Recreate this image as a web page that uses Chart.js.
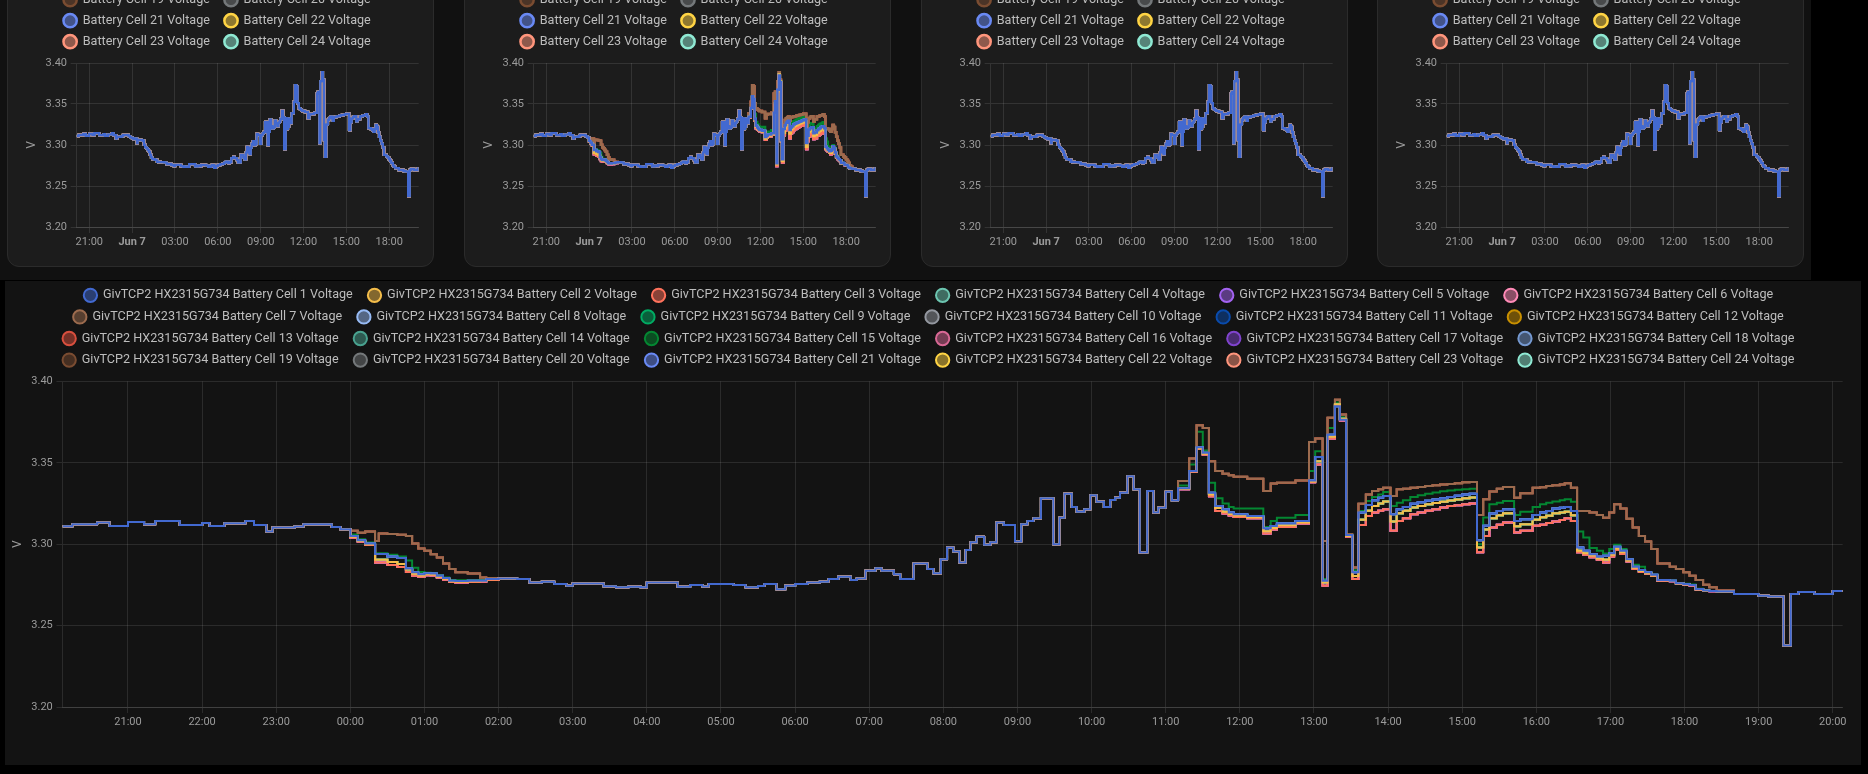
<!DOCTYPE html>
<html>
<head>
<meta charset="utf-8">
<title>Battery cell voltages</title>
<script src="https://cdn.jsdelivr.net/npm/chart.js@4.4.1/dist/chart.umd.min.js"></script>
<style>
  html, body { margin: 0; padding: 0; background: #000; }
  body { width: 1868px; height: 774px; position: relative; overflow: hidden; font-family: Roboto, sans-serif; }
  #top { position: absolute; left: 0; top: 0; width: 1811px; height: 280px; background: #111111; overflow: hidden; }
  .card { position: absolute; top: -204px; width: 427px; height: 471px; box-sizing: border-box;
          background: #1c1c1c; border: 1px solid #2b2b2b; border-radius: 12px; }
  .card .box { position: absolute; left: -1px; top: -1px; width: 427px; height: 471px; }
  #mainBg { position: absolute; left: 5px; top: 281px; width: 1856px; height: 484px; background: #131313; }
  #mainBox { position: absolute; left: 5px; top: 280px; width: 1856px; height: 485px; }
</style>
</head>
<body>
<div id="top">
  <div class="card" style="left:7px"><div class="box"><canvas id="card1"></canvas></div></div>
  <div class="card" style="left:464px"><div class="box"><canvas id="card2"></canvas></div></div>
  <div class="card" style="left:921px"><div class="box"><canvas id="card3"></canvas></div></div>
  <div class="card" style="left:1377px"><div class="box"><canvas id="card4"></canvas></div></div>
</div>
<div id="mainBg"></div>
<div id="mainBox"><canvas id="main"></canvas></div>

<script>
// ---- data (volts, sample-and-hold steps) ----

// 6 Jun evening, all cells together
const eveningTimes = ["20:07","20:15","20:35","20:45","21:00","21:13","21:22","21:42","22:00","22:06",
  "22:18","22:35","22:42","22:52","22:57","23:15","23:22","23:45","23:52"];
const eveningV = [3.3110,3.3122,3.3133,3.3112,3.3137,3.3122,3.3143,3.3118,3.3130,3.3112,
  3.3129,3.3143,3.3118,3.3078,3.3102,3.3108,3.3122,3.3106,3.3092];

// after midnight the cells split for a while
const nightTimes = ["00:00","00:06","00:12","00:20","00:23","00:30","00:38","00:45","00:50","00:55",
  "01:00","01:05","01:10","01:15","01:20","01:25","01:35","01:45","01:50"];
const nightUpper  = [3.3082,3.3070,3.3078,3.3020,3.3065,3.3062,3.3058,3.3051,3.3004,3.2973,
  3.2959,3.2939,3.2918,3.2882,3.2847,3.2827,3.2820,3.2796,3.2792];
const nightGreen  = [3.3060,3.3030,3.3010,3.2945,3.2945,3.2935,3.2925,3.2900,3.2855,3.2830,
  3.2825,3.2822,3.2810,3.2795,3.2780,3.2778,3.2778,3.2782,3.2786];
const nightBlue   = [3.3050,3.3025,3.3004,3.2940,3.2940,3.2925,3.2915,3.2850,3.2827,3.2816,
  3.2822,3.2820,3.2806,3.2792,3.2776,3.2774,3.2776,3.2776,3.2786];
const nightYellow = [3.3045,3.3020,3.3000,3.2905,3.2905,3.2890,3.2878,3.2845,3.2818,3.2808,
  3.2816,3.2814,3.2800,3.2788,3.2772,3.2770,3.2772,3.2774,3.2784];
const nightPink   = [3.3040,3.3015,3.2995,3.2888,3.2888,3.2873,3.2860,3.2830,3.2806,3.2800,
  3.2810,3.2808,3.2795,3.2782,3.2768,3.2765,3.2768,3.2770,3.2780];

// morning, cells back together
const morningTimes = ["02:00","02:15","02:25","02:35","02:45","02:55","03:00","03:25","03:35","03:45",
  "03:55","04:00","04:25","04:35","04:45","04:50","05:10","05:20","05:30","05:35",
  "05:45","05:52","06:00","06:10","06:20","06:27","06:35","06:45","06:50","06:57",
  "07:05","07:10","07:20","07:25","07:36","07:47","07:52","07:58","08:03","08:08",
  "08:13","08:18","08:22","08:27","08:33","08:38","08:43","08:49","08:58","09:03",
  "09:08","09:13","09:19","09:29","09:34","09:38","09:44","09:48","09:54","09:59",
  "10:04","10:10","10:15","10:19","10:23","10:29","10:34","10:39","10:45","10:50",
  "10:54","11:00","11:05"];
const morningV = [3.2790,3.2786,3.2765,3.2770,3.2755,3.2745,3.2759,3.2741,3.2735,3.2739,
  3.2735,3.2765,3.2739,3.2750,3.2740,3.2755,3.2750,3.2735,3.2743,3.2755,
  3.2724,3.2745,3.2755,3.2765,3.2770,3.2786,3.2800,3.2780,3.2790,3.2837,
  3.2853,3.2837,3.2816,3.2786,3.2882,3.2847,3.2822,3.2908,3.2980,3.2955,
  3.2888,3.2965,3.3012,3.3045,3.2996,3.3012,3.3133,3.3118,3.3016,3.3122,
  3.3143,3.3159,3.3282,3.3000,3.3163,3.3310,3.3229,3.3200,3.3214,3.3300,
  3.3261,3.3229,3.3271,3.3286,3.3316,3.3418,3.3337,3.2949,3.3327,3.3194,
  3.3224,3.3322,3.3269];

// charging / afternoon, cells fan out
const dayTimes = ["11:10","11:19","11:25","11:30","11:35","11:40","11:46","11:51","11:55","12:06",
  "12:19","12:25","12:30","12:45","12:56","13:01","13:07","13:11","13:17","13:21",
  "13:26","13:31","13:36","13:42","13:47","13:52","13:56","14:02","14:07","14:12",
  "14:18","14:24","14:30","14:36","14:42","14:48","14:54","15:00","15:06","15:12",
  "15:17","15:22","15:28","15:33","15:42","15:47","15:57","16:03","16:08","16:13",
  "16:19","16:23","16:28","16:33","16:38","16:43","16:49","16:54","16:59","17:03",
  "17:08","17:13","17:18","17:23","17:28","17:33","17:38","17:48","17:53","17:59",
  "18:04","18:09","18:15","18:20","18:26"];
const dayUpper = [3.3388,3.3527,3.3730,3.3714,3.3510,3.3449,3.3433,3.3424,3.3414,3.3402,
  3.3327,3.3373,3.3378,3.3392,3.3627,3.3649,3.3020,3.3776,3.3888,3.3796,
  3.3060,3.2857,3.3249,3.3306,3.3327,3.3337,3.3347,3.3296,3.3337,3.3340,
  3.3347,3.3352,3.3358,3.3362,3.3366,3.3370,3.3374,3.3380,3.3382,3.3180,
  3.3276,3.3323,3.3341,3.3351,3.3286,3.3313,3.3347,3.3350,3.3357,3.3362,
  3.3366,3.3374,3.3347,3.3204,3.3204,3.3194,3.3180,3.3163,3.3194,3.3245,
  3.3219,3.3157,3.3102,3.3051,3.3016,3.2970,3.2882,3.2862,3.2847,3.2827,
  3.2806,3.2780,3.2751,3.2735,3.2716];
const dayGreen = [3.3360,3.3490,3.3690,3.3576,3.3378,3.3282,3.3250,3.3229,3.3220,3.3220,
  3.3106,3.3143,3.3163,3.3180,3.3450,3.3571,3.2786,3.3714,3.3870,3.3780,
  3.3060,3.2840,3.3204,3.3265,3.3290,3.3306,3.3320,3.3235,3.3255,3.3270,
  3.3290,3.3300,3.3310,3.3318,3.3325,3.3330,3.3335,3.3337,3.3340,3.3000,
  3.3164,3.3245,3.3255,3.3266,3.3180,3.3200,3.3229,3.3245,3.3255,3.3262,
  3.3270,3.3276,3.3260,3.3078,3.3041,3.2976,3.2960,3.2943,3.2970,3.2996,
  3.2970,3.2908,3.2874,3.2861,3.2827,3.2813,3.2780,3.2776,3.2762,3.2757,
  3.2752,3.2727,3.2716,3.2713,3.2711];
const dayBlue = [3.3343,3.3450,3.3596,3.3561,3.3316,3.3235,3.3214,3.3194,3.3184,3.3173,
  3.3098,3.3112,3.3127,3.3143,3.3392,3.3535,3.2776,3.3673,3.3847,3.3765,
  3.3057,3.2827,3.3194,3.3241,3.3270,3.3286,3.3296,3.3184,3.3214,3.3228,
  3.3249,3.3258,3.3267,3.3275,3.3283,3.3290,3.3298,3.3306,3.3310,3.3025,
  3.3113,3.3188,3.3204,3.3215,3.3143,3.3153,3.3180,3.3194,3.3204,3.3219,
  3.3224,3.3229,3.3204,3.2980,3.2960,3.2939,3.2923,3.2929,3.2945,3.2984,
  3.2960,3.2908,3.2861,3.2841,3.2827,3.2813,3.2780,3.2776,3.2760,3.2755,
  3.2750,3.2725,3.2715,3.2713,3.2711];
const dayYellow = [3.3340,3.3448,3.3590,3.3555,3.3305,3.3222,3.3200,3.3185,3.3176,3.3165,
  3.3080,3.3100,3.3117,3.3133,3.3385,3.3510,3.2765,3.3660,3.3860,3.3770,
  3.3050,3.2805,3.3150,3.3205,3.3235,3.3250,3.3262,3.3140,3.3190,3.3205,
  3.3225,3.3235,3.3245,3.3253,3.3261,3.3268,3.3275,3.3282,3.3287,3.2980,
  3.3090,3.3160,3.3178,3.3190,3.3110,3.3122,3.3150,3.3165,3.3175,3.3190,
  3.3195,3.3200,3.3178,3.2960,3.2945,3.2930,3.2912,3.2905,3.2935,3.2972,
  3.2950,3.2900,3.2855,3.2835,3.2822,3.2808,3.2778,3.2774,3.2759,3.2754,
  3.2749,3.2724,3.2714,3.2712,3.2711];
const dayPink = [3.3338,3.3445,3.3585,3.3550,3.3295,3.3204,3.3188,3.3176,3.3167,3.3159,
  3.3065,3.3090,3.3105,3.3127,3.3380,3.3490,3.2745,3.3650,3.3855,3.3760,
  3.3045,3.2786,3.3118,3.3173,3.3194,3.3205,3.3214,3.3082,3.3143,3.3160,
  3.3184,3.3195,3.3205,3.3215,3.3225,3.3235,3.3240,3.3245,3.3250,3.2950,
  3.3050,3.3102,3.3120,3.3133,3.3072,3.3082,3.3113,3.3120,3.3130,3.3140,
  3.3148,3.3160,3.3143,3.2950,3.2935,3.2920,3.2904,3.2888,3.2925,3.2965,
  3.2940,3.2894,3.2848,3.2830,3.2818,3.2805,3.2776,3.2772,3.2757,3.2752,
  3.2747,3.2722,3.2713,3.2711,3.2711];

// evening of 7 Jun, together again
const lateTimes = ["18:40","19:00","19:08","19:20","19:26","19:32","19:45","20:00","20:08"];
const lateV = [3.2694,3.2684,3.2678,3.2378,3.2694,3.2706,3.2694,3.2712,3.2712];

// which trace each cell follows (cells 1..24)
const cellGroups = ["blue","yellow","pink","yellow","pink","pink","upper","blue","yellow","yellow",
  "blue","yellow","upper","yellow","green","pink","pink","blue","upper","upper",
  "blue","yellow","pink","yellow"];
// the other three packs sit tight on the upper trace
const packGroups = Array(24).fill("upper");

const cellColors = ["#4269d0","#f4bd4a","#ff725c","#6cc5b0","#a463f2","#ff8ab7","#9c6b4e","#97bbf5",
  "#01ab63","#9498a0","#094bad","#c99000","#d84f3e","#49a28f","#048732","#d96895",
  "#8043ce","#7599d1","#7a4c31","#74787a","#6989f4","#ffd444","#ff957c","#8fe9d3"];

const mainTickLabels = ["21:00","22:00","23:00","00:00","01:00","02:00","03:00","04:00","05:00","06:00",
  "07:00","08:00","09:00","10:00","11:00","12:00","13:00","14:00","15:00","16:00",
  "17:00","18:00","19:00","20:00"];
const cardTickLabels = ["21:00","Jun 7","03:00","06:00","09:00","12:00","15:00","18:00"];
const yTicks = [3.20, 3.25, 3.30, 3.35, 3.40];

// ---- helpers ----
const nightByGroup = { upper: nightUpper, green: nightGreen, blue: nightBlue, yellow: nightYellow, pink: nightPink };
const dayByGroup = { upper: dayUpper, green: dayGreen, blue: dayBlue, yellow: dayYellow, pink: dayPink };

// minutes from 7 Jun 00:00
function toMin(s, offset) {
  const [h, m] = s.split(":").map(Number);
  return offset + h * 60 + m;
}
function pairs(times, values, offset) {
  return times.map((t, i) => ({ x: toMin(t, offset), y: values[i] }));
}
function cellSeries(group) {
  return [].concat(
    pairs(eveningTimes, eveningV, -1440),
    pairs(nightTimes, nightByGroup[group], 0),
    pairs(morningTimes, morningV, 0),
    pairs(dayTimes, dayByGroup[group], 0),
    pairs(lateTimes, lateV, 0)
  );
}
function tickValues(labels) {
  let offset = -1440, prev = -1;
  return labels.map(l => {
    if (l === "Jun 7") { offset = 0; prev = 0; return 0; }
    const h = Number(l.slice(0, 2));
    if (h < prev) offset = 0;
    prev = h;
    return toMin(l, offset);
  });
}
function hhmm(v) {
  const m = ((Math.round(v) % 1440) + 1440) % 1440;
  return String(Math.floor(m / 60)).padStart(2, "0") + ":" + String(m % 60).padStart(2, "0");
}

const GRID = "rgba(255,255,255,0.1)";
const TICK_COLOR = "#9b9b9b";
Chart.defaults.font.family = "Roboto, 'Noto Sans', sans-serif";
Chart.defaults.color = TICK_COLOR;

// let the legend be as tall as it needs, plus a little room above the plot
const legendGap = {
  id: "legendGap",
  afterInit(chart) {
    const lg = chart.legend;
    if (!lg) return;
    const fit = lg.fit;
    lg.fit = function () { this.maxHeight = 10000; fit.call(this); this.height += 5; };
  }
};

function padLabels(chart) {
  const items = Chart.defaults.plugins.legend.labels.generateLabels(chart);
  items.forEach(it => { it.text += "\u2002"; });
  return items;
}

function datasets(groups, prefix, width) {
  return cellColors.map((c, i) => ({
    label: prefix + "Battery Cell " + (i + 1) + " Voltage",
    data: cellSeries(groups[i]),
    borderColor: c,
    backgroundColor: c + "80",
    borderWidth: width,
    pointRadius: 0,
    pointHoverRadius: 0,
    stepped: true,
    fill: false
  }));
}

function options(o) {
  const xVals = tickValues(o.tickLabels);
  return {
    responsive: true,
    maintainAspectRatio: false,
    animation: false,
    events: [],
    layout: { padding: o.padding },
    plugins: {
      tooltip: { enabled: false },
      legend: {
        position: "top",
        labels: {
          usePointStyle: true,
          boxWidth: 14,
          boxHeight: 9.4,
          padding: o.legendPad,
          color: "#bdbdbd",
          font: { size: 12.6 },
          generateLabels: padLabels
        }
      }
    },
    scales: {
      x: {
        type: "linear",
        min: o.xMin,
        max: o.xMax,
        afterBuildTicks: a => { a.ticks = xVals.map(v => ({ value: v })); },
        afterFit: s => { s.height = o.xHeight; },
        ticks: {
          autoSkip: false,
          maxRotation: 0,
          padding: 3,
          color: TICK_COLOR,
          font: ctx => ({ size: 11, weight: (o.boldMidnight && ctx.tick && ctx.tick.value === 0) ? "bold" : "normal" }),
          callback: v => (o.boldMidnight && v === 0) ? "Jun 7" : hhmm(v)
        },
        grid: { color: GRID, tickLength: 6 },
        border: { color: GRID }
      },
      y: {
        min: 3.2,
        max: 3.4,
        afterBuildTicks: a => { a.ticks = yTicks.map(v => ({ value: v })); },
        afterFit: s => { s.width = o.yWidth; },
        ticks: { padding: 3.7, color: TICK_COLOR, font: { size: 11 }, callback: v => v.toFixed(2) },
        grid: { color: GRID, tickLength: 6 },
        border: { color: GRID },
        title: { display: true, text: "V", color: TICK_COLOR, font: { size: 12 }, padding: { top: o.titlePad, bottom: 0 } }
      }
    }
  };
}

new Chart(document.getElementById("main"), {
  type: "line",
  data: { datasets: datasets(cellGroups, "GivTCP2 HX2315G734 ", 2) },
  options: options({
    padding: { left: 16, right: 18.3, top: 0, bottom: 28 },
    legendPad: 9, xMin: -233, xMax: 1208, xHeight: 30, yWidth: 41.5, titlePad: -10.2,
    tickLabels: mainTickLabels, boldMidnight: false
  }),
  plugins: [legendGap]
});

const cardPacks = [packGroups, cellGroups, packGroups, packGroups];
cardPacks.forEach((groups, k) => {
  new Chart(document.getElementById("card" + (k + 1)), {
    type: "line",
    data: { datasets: datasets(groups, "", 2.5) },
    options: options({
      padding: { left: 15.3, right: 15.3, top: 0, bottom: 15 },
      legendPad: 8.4, xMin: -233, xMax: 1204, xHeight: 25, yWidth: 54.4, titlePad: 2.5,
      tickLabels: cardTickLabels, boldMidnight: true
    }),
    plugins: [legendGap]
  });
});
</script>
</body>
</html>
